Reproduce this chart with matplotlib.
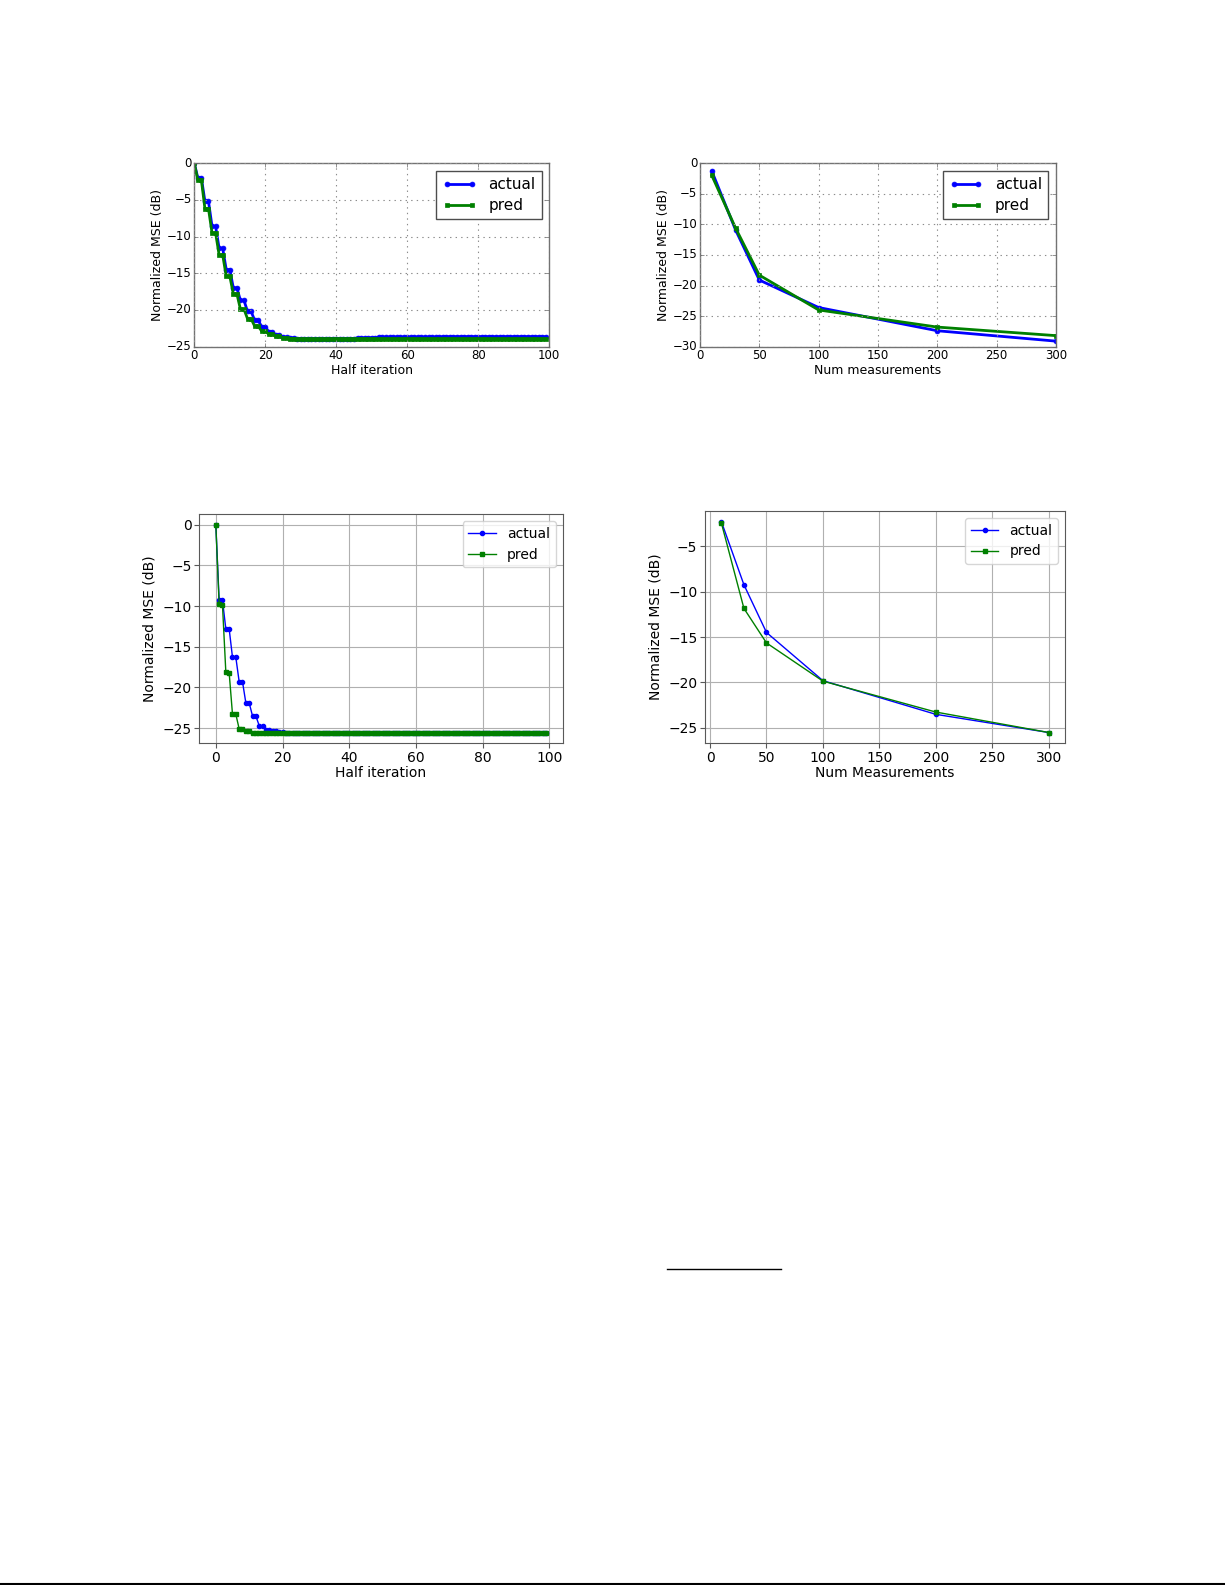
import numpy as np
import matplotlib
matplotlib.use("Agg")
import matplotlib.pyplot as plt
from matplotlib.lines import Line2D

# --- data ----------------------------------------------------------------
# top-left: half iterations 0..99
half_it = np.arange(100)
tl_actual = ([0.0, -2.0, -2.0, -5.2, -5.2, -8.6, -8.6, -11.6, -11.6, -14.5,
              -14.5, -17.0, -17.0, -18.7, -18.7, -20.2, -20.2, -21.4, -21.4, -22.3,
              -22.3, -23.0, -23.0, -23.4, -23.4, -23.7, -23.7, -23.8, -23.8, -23.9]
             + [-23.9] * 16 + [-23.8] * 6 + [-23.7] * 18 + [-23.65] * 30)
tl_pred = ([0.0, -2.3, -2.3, -6.2, -6.2, -9.5, -9.5, -12.5, -12.5, -15.4,
            -15.4, -17.8, -17.8, -19.9, -19.9, -21.2, -21.2, -22.2, -22.2, -22.9,
            -22.9, -23.3, -23.3, -23.6, -23.6, -23.8, -23.8, -23.9, -23.9, -24.0]
           + [-24.0] * 70)

# top-right
tr_meas = [10, 30, 50, 100, 200, 300]
tr_actual = [-1.3, -10.9, -19.1, -23.6, -27.4, -29.1]
tr_pred = [-2.0, -10.6, -18.3, -24.0, -26.8, -28.2]

# bottom-left: half iterations 0..99
bl_actual = ([0.0, -9.3, -9.3, -12.8, -12.8, -16.3, -16.3, -19.3, -19.3, -21.9,
              -21.9, -23.5, -23.5, -24.7, -24.7, -25.2, -25.2, -25.4, -25.4, -25.5,
              -25.5] + [-25.6] * 79)
bl_pred = ([0.0, -9.8, -9.9, -18.1, -18.2, -23.3, -23.3, -25.1, -25.1, -25.4,
            -25.4] + [-25.55] * 89)

# bottom-right
br_meas = [10, 30, 50, 100, 200, 300]
br_actual = [-2.3, -9.25, -14.5, -19.8, -23.5, -25.5]
br_pred = [-2.45, -11.85, -15.65, -19.85, -23.25, -25.5]

W, H = 1225, 1585
fig = plt.figure(figsize=(W / 100, H / 100), dpi=100)
fig.patch.set_facecolor("white")

# --- top row: old "classic" look ----------------------------------------
with plt.style.context("classic"):
    ax1 = fig.add_axes([0.1586, 0.7813, 0.2898, 0.1157])
    ax1.plot(half_it, tl_actual, "b-o", lw=2, ms=3.5, mec="b", label="actual")
    ax1.plot(half_it, tl_pred, "g-s", lw=2, ms=3.5, mec="g", label="pred")
    ax1.set_xlim(0, 100); ax1.set_ylim(-25, 0)
    ax1.set_xticks(np.arange(0, 101, 20)); ax1.set_yticks(np.arange(-25, 1, 5))
    ax1.set_xlabel("Half iteration", fontsize=9, labelpad=1)
    ax1.set_ylabel("Normalized MSE (dB)", fontsize=9, labelpad=2)

    ax2 = fig.add_axes([0.5714, 0.7813, 0.2906, 0.1157])
    ax2.plot(tr_meas, tr_actual, "b-o", lw=2, ms=3.5, mec="b", label="actual")
    ax2.plot(tr_meas, tr_pred, "g-s", lw=2, ms=3.5, mec="g", label="pred")
    ax2.set_xlim(0, 300); ax2.set_ylim(-30, 0)
    ax2.set_xticks(np.arange(0, 301, 50)); ax2.set_yticks(np.arange(-30, 1, 5))
    ax2.set_xlabel("Num measurements", fontsize=9, labelpad=1)
    ax2.set_ylabel("Normalized MSE (dB)", fontsize=9, labelpad=2)

    for ax in (ax1, ax2):
        ax.grid(True, color="0.55", ls=":", lw=0.8)
        ax.tick_params(labelsize=8.5, pad=2, length=3, color="0.4")
        ax.set_facecolor("white")
        for sp in ax.spines.values():
            sp.set_color("0.45")
        leg = ax.legend(loc="upper right", fontsize=11, numpoints=2,
                        handlelength=2.2, borderpad=0.4, labelspacing=0.4)
        leg.get_frame().set_edgecolor("0.3")

# --- bottom row: newer default look -------------------------------------
ax3 = fig.add_axes([0.1627, 0.5310, 0.2965, 0.1445])
ax3.plot(half_it, bl_actual, "b.-", lw=1, ms=6, label="actual")
ax3.plot(half_it, bl_pred, "gs-", lw=1, ms=3, label="pred")
ax3.set_xlabel("Half iteration", labelpad=1)

ax4 = fig.add_axes([0.5755, 0.5312, 0.2939, 0.1464])
ax4.plot(br_meas, br_actual, "b.-", lw=1, ms=6, label="actual")
ax4.plot(br_meas, br_pred, "gs-", lw=1, ms=3, label="pred")
ax4.set_xlabel("Num Measurements", labelpad=1)
ax4.set_xticks(np.arange(0, 301, 50))

for ax in (ax3, ax4):
    ax.set_ylabel("Normalized MSE (dB)")
    ax.grid(True, color="#b0b0b0", lw=0.8)
    ax.tick_params(labelsize=10, pad=2, color="0.35")
    for sp in ax.spines.values():
        sp.set_color("0.35")
    ax.legend(loc="upper right", fontsize=10)

# page rules (footnote separator and bottom edge)
fig.add_artist(Line2D([667 / W, 781 / W], [1 - 1269 / H] * 2,
                      transform=fig.transFigure, color="k", lw=1))
fig.add_artist(Line2D([0, 1224 / W], [1 - 1584 / H] * 2,
                      transform=fig.transFigure, color="k", lw=1.5))

fig.savefig("out.png", dpi=100, facecolor="white")
